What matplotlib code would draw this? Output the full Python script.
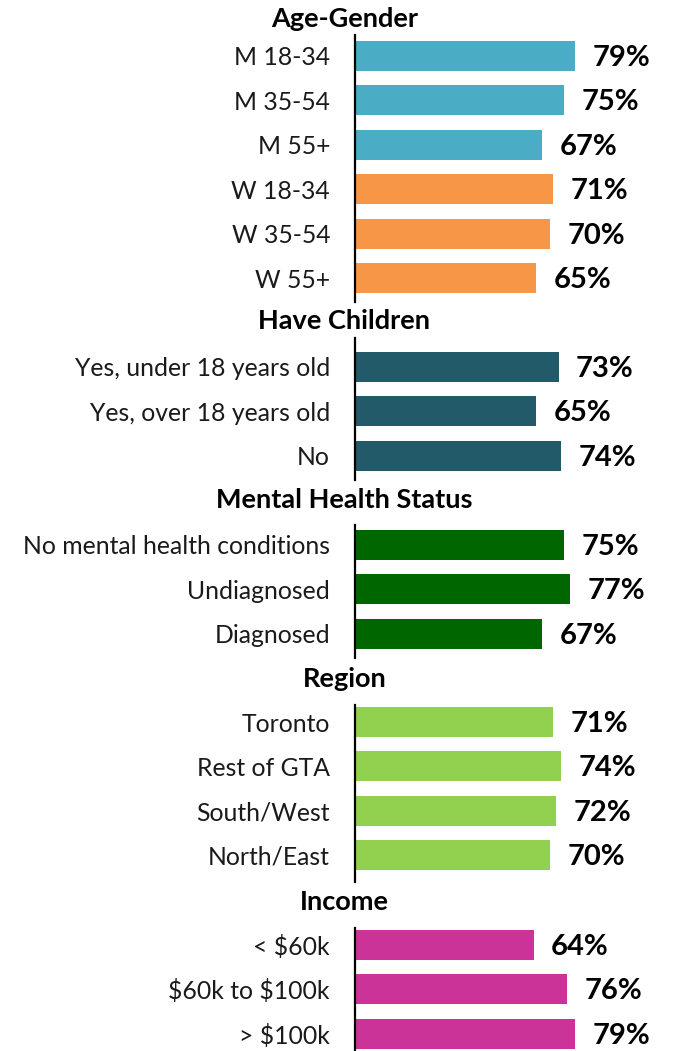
import matplotlib
matplotlib.use("Agg")
import matplotlib.pyplot as plt

plt.rcParams['font.family'] = ['Lato', 'DejaVu Sans']
plt.rcParams['text.parse_math'] = False

# ---- data ----
groups = ["Age-Gender", "Have Children", "Mental Health Status", "Region", "Income"]

age_gender_labels = ["M 18-34", "M 35-54", "M 55+", "W 18-34", "W 35-54", "W 55+"]
age_gender_values = [79, 75, 67, 71, 70, 65]

children_labels = ["Yes, under 18 years old", "Yes, over 18 years old", "No"]
children_values = [73, 65, 74]

mental_labels = ["No mental health conditions", "Undiagnosed", "Diagnosed"]
mental_values = [75, 77, 67]

region_labels = ["Toronto", "Rest of GTA", "South/West", "North/East"]
region_values = [71, 74, 72, 70]

income_labels = ["< $60k", "$60k to $100k", "> $100k"]
income_values = [64, 76, 79]

# ---- styling ----
BLUE, ORANGE = "#4BACC6", "#F79646"
TEAL, GREEN, LIGHT_GREEN, MAGENTA = "#225A69", "#006600", "#92D050", "#CC3399"

age_gender_colors = [BLUE] * 3 + [ORANGE] * 3
group_data = [
    (age_gender_labels, age_gender_values, age_gender_colors),
    (children_labels, children_values, [TEAL] * 3),
    (mental_labels, mental_values, [GREEN] * 3),
    (region_labels, region_values, [LIGHT_GREEN] * 4),
    (income_labels, income_values, [MAGENTA] * 3),
]

W, H, DPI = 674, 1051, 100
fig = plt.figure(figsize=(W / DPI, H / DPI), dpi=DPI)

# panel layout in pixels: (top of axis line, bottom of axis line, first bar centre)
panels = [(35, 302, 56), (338, 480, 367), (525, 658, 545), (705, 882, 722), (928, 1051, 945)]
header_y = [19, 321, 500, 679, 902]
step = 44.4
axis_x = 355
px_per_unit = 2.79
xmax = (W - axis_x) / px_per_unit

for (labels, values, colors), (top, bottom, c0), name, hy in zip(group_data, panels, groups, header_y):
    ax = fig.add_axes([axis_x / W, 1 - bottom / H, (W - axis_x) / W, (bottom - top) / H])
    pos = list(range(len(values)))
    ax.barh(pos, values, height=30 / step, color=colors)
    ax.set_ylim((bottom - c0) / step, -(c0 - top) / step)
    ax.set_xlim(0, xmax)
    ax.set_yticks(pos)
    ax.set_yticklabels(labels, fontsize=17.8, color="#1a1a1a")
    ax.tick_params(axis="y", length=0, pad=18)
    ax.set_xticks([])
    for s in ("top", "right", "bottom"):
        ax.spines[s].set_visible(False)
    ax.spines["left"].set_linewidth(1.6)
    ax.spines["left"].set_color("black")
    ax.patch.set_alpha(0)
    for p, v in zip(pos, values):
        ax.annotate(f"{v}%", xy=(v, p), xytext=(12.5, -1.5), textcoords="offset points",
                    ha="left", va="center", fontsize=21, fontweight="bold", color="black")
    fig.text(344.5 / W, 1 - hy / H, name, ha="center", va="center",
             fontsize=19.5, fontweight="bold", color="black")

fig.savefig("out.png", dpi=DPI)
